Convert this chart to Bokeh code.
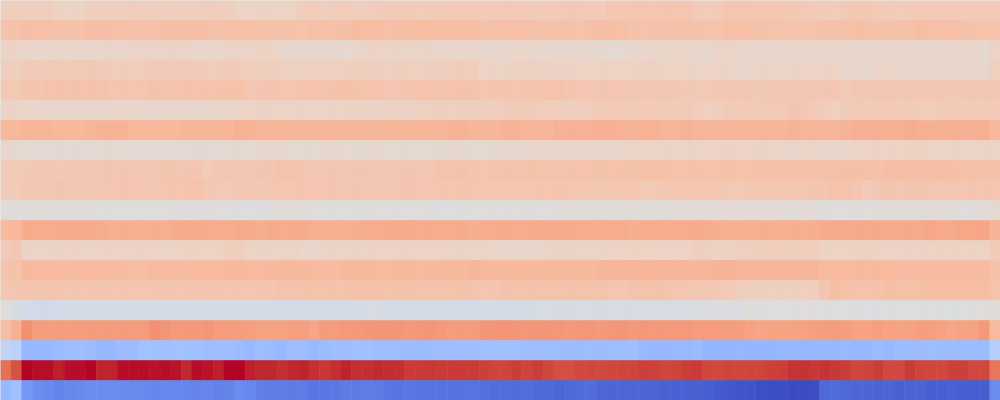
from bokeh.plotting import figure
from bokeh.models import ColumnDataSource, LinearColorMapper, Range1d
from bokeh.transform import transform
from bokeh.embed import file_html
from bokeh.resources import INLINE

# ---- data: one list per row (top to bottom), 94 columns each ----
row00 = [0.585,0.585,0.585,0.585,0.585,0.565,0.565,0.565,0.58,0.58,0.585,0.585,
         0.59,0.585,0.585,0.585,0.585,0.585,0.585,0.59,0.585,0.585,0.565,0.56,
         0.565,0.56,0.565,0.565,0.585,0.59,0.585,0.59,0.59,0.585,0.585,0.59,
         0.595,0.595,0.595,0.59,0.595,0.595,0.6,0.6,0.6,0.6,0.595,
         0.605,0.6,0.6,0.595,0.6,0.6,0.605,0.605,0.6,0.6,0.61,0.61,
         0.615,0.615,0.615,0.615,0.62,0.62,0.595,0.59,0.6,0.615,0.615,0.615,
         0.61,0.61,0.61,0.605,0.605,0.6,0.59,0.59,0.605,0.61,0.61,
         0.6,0.59,0.59,0.6,0.6,0.6,0.6,0.6,0.6,0.6,0.6,0.6]
row01 = [0.625,0.625,0.64,0.64,0.64,0.635,0.635,0.635,0.645,0.645,0.64,0.64,
         0.635,0.635,0.635,0.645,0.64,0.64,0.645,0.64,0.635,0.64,0.64,0.64,
         0.63,0.635,0.635,0.63,0.63,0.64,0.64,0.64,0.64,0.65,0.65,0.65,
         0.64,0.645,0.645,0.65,0.645,0.645,0.645,0.645,0.645,0.635,0.64,
         0.64,0.64,0.64,0.635,0.635,0.635,0.635,0.63,0.64,0.645,0.645,0.64,
         0.63,0.625,0.635,0.635,0.635,0.635,0.625,0.625,0.63,0.64,0.64,0.635,
         0.63,0.63,0.625,0.625,0.625,0.625,0.635,0.635,0.635,0.64,0.64,
         0.63,0.63,0.635,0.635,0.645,0.64,0.64,0.64,0.635,0.63,0.63,0.625]
row02 = [0.56,0.56,0.55,0.55,0.55,0.55,0.55,0.55,0.55,0.55,0.555,0.55,
         0.555,0.555,0.555,0.555,0.555,0.555,0.55,0.55,0.55,0.555,0.555,0.555,
         0.56,0.565,0.545,0.54,0.54,0.545,0.545,0.545,0.535,0.55,0.56,0.56,
         0.555,0.555,0.555,0.555,0.555,0.55,0.55,0.55,0.545,0.54,0.54,
         0.55,0.55,0.55,0.55,0.54,0.54,0.54,0.545,0.545,0.535,0.535,0.535,
         0.545,0.55,0.55,0.55,0.55,0.55,0.55,0.54,0.555,0.555,0.55,0.55,
         0.545,0.54,0.55,0.55,0.545,0.545,0.55,0.55,0.55,0.545,0.545,
         0.545,0.545,0.545,0.55,0.545,0.545,0.55,0.55,0.55,0.55,0.535,0.56]
row03 = [0.585,0.58,0.595,0.6,0.6,0.6,0.6,0.605,0.605,0.6,0.59,0.59,
         0.585,0.59,0.595,0.595,0.595,0.6,0.6,0.59,0.59,0.6,0.59,0.585,
         0.58,0.58,0.575,0.575,0.575,0.575,0.575,0.575,0.58,0.585,0.58,0.58,
         0.575,0.58,0.58,0.58,0.575,0.58,0.59,0.59,0.59,0.565,0.56,
         0.565,0.57,0.57,0.57,0.57,0.56,0.565,0.565,0.565,0.565,0.565,0.565,
         0.565,0.57,0.57,0.565,0.565,0.565,0.56,0.56,0.565,0.565,0.55,0.55,
         0.565,0.565,0.555,0.555,0.56,0.56,0.565,0.565,0.545,0.545,0.545,
         0.555,0.555,0.545,0.55,0.55,0.55,0.545,0.545,0.55,0.55,0.545,0.58]
row04 = [0.605,0.605,0.62,0.62,0.625,0.625,0.625,0.625,0.625,0.625,0.62,0.62,
         0.62,0.62,0.625,0.625,0.625,0.625,0.625,0.625,0.625,0.63,0.63,0.61,
         0.615,0.615,0.62,0.62,0.625,0.625,0.625,0.625,0.635,0.63,0.625,0.625,
         0.615,0.615,0.62,0.625,0.625,0.625,0.625,0.625,0.625,0.62,0.62,
         0.62,0.62,0.62,0.62,0.625,0.625,0.62,0.615,0.615,0.615,0.615,0.615,
         0.61,0.61,0.61,0.61,0.61,0.605,0.605,0.605,0.61,0.61,0.61,0.61,
         0.605,0.61,0.61,0.61,0.61,0.61,0.615,0.615,0.595,0.61,0.61,
         0.615,0.615,0.61,0.61,0.61,0.61,0.61,0.605,0.61,0.61,0.61,0.61]
row05 = [0.56,0.555,0.55,0.55,0.55,0.545,0.545,0.545,0.545,0.545,0.55,0.55,
         0.55,0.55,0.54,0.545,0.55,0.545,0.545,0.545,0.55,0.55,0.56,0.56,
         0.565,0.565,0.565,0.56,0.56,0.56,0.56,0.56,0.565,0.57,0.56,0.56,
         0.57,0.57,0.57,0.575,0.575,0.58,0.58,0.58,0.58,0.585,0.585,
         0.59,0.595,0.59,0.59,0.59,0.59,0.585,0.585,0.59,0.6,0.6,0.6,
         0.6,0.6,0.6,0.6,0.6,0.605,0.59,0.58,0.585,0.595,0.6,0.6,
         0.6,0.605,0.605,0.615,0.615,0.6,0.59,0.58,0.595,0.6,0.6,
         0.595,0.6,0.6,0.595,0.59,0.59,0.595,0.595,0.6,0.6,0.595,0.6]
row06 = [0.665,0.665,0.675,0.675,0.675,0.665,0.665,0.665,0.675,0.68,0.68,0.68,
         0.665,0.665,0.665,0.665,0.665,0.67,0.67,0.67,0.67,0.67,0.685,0.68,
         0.67,0.675,0.675,0.675,0.675,0.675,0.675,0.675,0.675,0.675,0.67,0.67,
         0.675,0.675,0.675,0.675,0.675,0.675,0.68,0.68,0.675,0.675,0.675,
         0.68,0.68,0.675,0.675,0.675,0.685,0.685,0.685,0.685,0.69,0.69,0.68,
         0.68,0.685,0.685,0.675,0.675,0.685,0.675,0.675,0.675,0.675,0.675,0.675,
         0.675,0.675,0.675,0.68,0.675,0.675,0.675,0.675,0.68,0.69,0.69,
         0.69,0.69,0.69,0.7,0.695,0.69,0.69,0.69,0.69,0.69,0.695,0.665]
row07 = [0.545,0.535,0.525,0.53,0.53,0.53,0.53,0.53,0.53,0.535,0.535,0.53,
         0.53,0.53,0.53,0.53,0.53,0.53,0.53,0.53,0.53,0.535,0.535,0.535,
         0.54,0.54,0.54,0.535,0.535,0.535,0.54,0.54,0.535,0.535,0.535,0.54,
         0.535,0.535,0.53,0.53,0.535,0.535,0.54,0.535,0.535,0.535,0.535,
         0.54,0.54,0.54,0.55,0.55,0.55,0.55,0.55,0.55,0.545,0.545,0.55,
         0.555,0.555,0.555,0.555,0.555,0.56,0.56,0.56,0.56,0.56,0.56,0.56,
         0.555,0.555,0.55,0.55,0.555,0.555,0.545,0.545,0.545,0.56,0.56,
         0.56,0.56,0.565,0.565,0.565,0.565,0.555,0.555,0.555,0.555,0.555,0.555]
row08 = [0.6,0.6,0.605,0.61,0.61,0.605,0.61,0.615,0.615,0.615,0.615,0.615,
         0.615,0.615,0.615,0.62,0.62,0.615,0.615,0.6,0.61,0.615,0.615,0.615,
         0.615,0.62,0.625,0.625,0.615,0.615,0.615,0.615,0.61,0.615,0.615,0.615,
         0.615,0.615,0.615,0.615,0.615,0.625,0.625,0.625,0.62,0.62,0.625,
         0.625,0.625,0.63,0.63,0.625,0.625,0.625,0.625,0.63,0.63,0.63,0.63,
         0.63,0.64,0.635,0.64,0.63,0.63,0.63,0.63,0.63,0.635,0.63,0.63,
         0.635,0.635,0.635,0.635,0.635,0.635,0.635,0.64,0.64,0.64,0.64,
         0.635,0.645,0.65,0.645,0.645,0.645,0.645,0.64,0.64,0.64,0.635,0.635]
row09 = [0.59,0.595,0.61,0.61,0.61,0.615,0.61,0.61,0.61,0.61,0.615,0.615,
         0.615,0.615,0.61,0.615,0.62,0.62,0.625,0.61,0.605,0.605,0.61,0.61,
         0.605,0.61,0.615,0.615,0.615,0.615,0.615,0.615,0.615,0.615,0.61,0.61,
         0.61,0.615,0.615,0.615,0.615,0.615,0.62,0.62,0.615,0.615,0.61,
         0.615,0.615,0.615,0.615,0.62,0.62,0.62,0.61,0.61,0.61,0.61,0.61,
         0.615,0.605,0.605,0.61,0.61,0.61,0.615,0.61,0.61,0.605,0.605,0.61,
         0.61,0.61,0.61,0.61,0.61,0.62,0.62,0.625,0.625,0.615,0.6,
         0.615,0.62,0.62,0.62,0.62,0.62,0.615,0.615,0.615,0.615,0.615,0.615]
row10 = [0.515,0.51,0.505,0.51,0.51,0.505,0.505,0.51,0.505,0.5,0.5,0.5,
         0.5,0.5,0.5,0.505,0.505,0.505,0.505,0.5,0.5,0.5,0.495,0.495,
         0.495,0.505,0.51,0.51,0.505,0.505,0.5,0.5,0.5,0.5,0.5,0.5,
         0.5,0.5,0.5,0.5,0.505,0.495,0.495,0.5,0.5,0.5,0.5,
         0.5,0.5,0.5,0.505,0.505,0.51,0.51,0.51,0.51,0.51,0.51,0.51,
         0.515,0.515,0.515,0.515,0.52,0.52,0.515,0.515,0.52,0.52,0.52,0.515,
         0.52,0.52,0.515,0.515,0.52,0.515,0.5,0.505,0.505,0.505,0.505,
         0.51,0.51,0.51,0.51,0.51,0.51,0.51,0.51,0.505,0.505,0.51,0.535]
row11 = [0.66,0.665,0.7,0.7,0.7,0.7,0.705,0.705,0.705,0.7,0.695,0.695,
         0.695,0.695,0.695,0.695,0.7,0.705,0.705,0.7,0.7,0.7,0.71,0.705,
         0.695,0.705,0.7,0.7,0.7,0.695,0.695,0.695,0.695,0.695,0.7,0.7,
         0.705,0.705,0.705,0.7,0.7,0.7,0.7,0.7,0.695,0.7,0.7,
         0.705,0.7,0.7,0.705,0.705,0.7,0.7,0.7,0.7,0.7,0.7,0.7,
         0.695,0.7,0.7,0.7,0.7,0.7,0.705,0.7,0.695,0.695,0.695,0.695,
         0.695,0.695,0.695,0.695,0.695,0.695,0.7,0.71,0.71,0.71,0.71,
         0.71,0.71,0.71,0.71,0.71,0.715,0.71,0.71,0.715,0.715,0.72,0.68]
row12 = [0.6,0.61,0.555,0.555,0.555,0.555,0.56,0.555,0.555,0.56,0.56,0.555,
         0.56,0.56,0.555,0.555,0.56,0.565,0.565,0.565,0.565,0.585,0.585,0.565,
         0.555,0.555,0.555,0.555,0.55,0.55,0.555,0.555,0.555,0.555,0.56,0.56,
         0.56,0.56,0.56,0.56,0.56,0.56,0.555,0.555,0.555,0.555,0.55,
         0.55,0.55,0.55,0.55,0.555,0.555,0.555,0.555,0.555,0.555,0.555,0.56,
         0.565,0.565,0.565,0.56,0.56,0.56,0.575,0.575,0.565,0.565,0.575,0.575,
         0.58,0.585,0.585,0.585,0.585,0.585,0.565,0.565,0.565,0.57,0.57,
         0.56,0.56,0.56,0.56,0.56,0.565,0.565,0.565,0.565,0.565,0.565,0.595]
row13 = [0.625,0.63,0.66,0.66,0.66,0.655,0.655,0.66,0.66,0.66,0.655,0.655,
         0.65,0.65,0.66,0.66,0.655,0.655,0.66,0.66,0.66,0.665,0.665,0.66,
         0.66,0.66,0.665,0.665,0.665,0.66,0.655,0.655,0.665,0.665,0.665,0.66,
         0.66,0.665,0.665,0.66,0.66,0.665,0.665,0.665,0.67,0.665,0.665,
         0.665,0.665,0.665,0.665,0.665,0.665,0.665,0.665,0.665,0.67,0.67,0.675,
         0.675,0.675,0.675,0.675,0.675,0.675,0.675,0.675,0.68,0.68,0.675,0.675,
         0.67,0.67,0.67,0.67,0.67,0.67,0.66,0.66,0.66,0.66,0.66,
         0.66,0.66,0.655,0.655,0.655,0.655,0.655,0.655,0.655,0.655,0.655,0.635]
row14 = [0.61,0.62,0.62,0.62,0.62,0.62,0.615,0.62,0.62,0.62,0.62,0.62,
         0.615,0.615,0.62,0.62,0.62,0.62,0.62,0.62,0.62,0.62,0.62,0.62,
         0.62,0.62,0.625,0.625,0.625,0.63,0.63,0.625,0.625,0.635,0.63,0.63,
         0.63,0.63,0.63,0.63,0.625,0.625,0.625,0.625,0.625,0.62,0.615,
         0.625,0.625,0.625,0.625,0.625,0.625,0.625,0.625,0.625,0.625,0.62,0.62,
         0.625,0.625,0.625,0.625,0.615,0.615,0.61,0.61,0.605,0.6,0.585,0.58,
         0.58,0.58,0.58,0.58,0.58,0.585,0.62,0.645,0.635,0.625,0.625,
         0.63,0.645,0.64,0.64,0.64,0.645,0.645,0.645,0.645,0.645,0.645,0.63]
row15 = [0.505,0.48,0.465,0.46,0.46,0.465,0.465,0.465,0.465,0.465,0.47,0.47,
         0.47,0.47,0.47,0.47,0.47,0.47,0.47,0.47,0.47,0.47,0.47,0.465,
         0.465,0.465,0.465,0.465,0.465,0.465,0.465,0.465,0.47,0.47,0.475,0.475,
         0.47,0.47,0.47,0.47,0.47,0.47,0.47,0.465,0.465,0.47,0.47,
         0.47,0.47,0.47,0.475,0.475,0.475,0.475,0.475,0.475,0.475,0.475,0.475,
         0.475,0.48,0.48,0.48,0.48,0.485,0.49,0.49,0.49,0.49,0.49,0.5,
         0.495,0.495,0.5,0.5,0.505,0.505,0.495,0.495,0.495,0.495,0.495,
         0.495,0.495,0.495,0.495,0.495,0.495,0.495,0.495,0.495,0.5,0.5,0.515]
row16 = [0.645,0.69,0.77,0.74,0.74,0.74,0.74,0.74,0.745,0.745,0.745,0.745,
         0.745,0.745,0.77,0.765,0.75,0.75,0.75,0.755,0.745,0.745,0.74,0.735,
         0.725,0.725,0.73,0.735,0.735,0.72,0.745,0.745,0.75,0.75,0.755,0.76,
         0.76,0.755,0.75,0.755,0.755,0.75,0.745,0.745,0.745,0.76,0.76,
         0.765,0.76,0.755,0.76,0.76,0.755,0.75,0.755,0.755,0.75,0.755,0.76,
         0.75,0.755,0.75,0.75,0.75,0.75,0.745,0.745,0.74,0.745,0.74,0.73,
         0.72,0.725,0.725,0.725,0.73,0.735,0.74,0.745,0.735,0.73,0.73,
         0.735,0.73,0.725,0.73,0.735,0.735,0.725,0.72,0.725,0.73,0.75,0.66]
row17 = [0.40,0.385,0.28,0.28,0.285,0.29,0.30,0.30,0.29,0.28,0.285,0.295,
         0.29,0.31,0.31,0.305,0.31,0.31,0.305,0.30,0.30,0.30,0.29,0.285,
         0.30,0.29,0.285,0.30,0.295,0.285,0.29,0.30,0.30,0.305,0.305,0.30,
         0.30,0.295,0.29,0.29,0.295,0.295,0.295,0.30,0.30,0.305,0.305,
         0.31,0.305,0.30,0.295,0.295,0.295,0.29,0.29,0.295,0.29,0.295,0.30,
         0.30,0.285,0.28,0.28,0.285,0.285,0.29,0.27,0.27,0.27,0.275,0.27,
         0.275,0.27,0.28,0.28,0.275,0.28,0.28,0.28,0.285,0.28,0.28,
         0.29,0.285,0.29,0.29,0.295,0.295,0.29,0.295,0.29,0.29,0.29,0.37]
row18 = [0.84,0.90,1.0,0.99,0.99,0.975,0.99,0.99,1.0,0.97,0.97,0.99,
         0.99,0.99,0.985,0.99,0.985,0.965,0.99,0.985,0.975,1.0,1.0,0.975,
         0.965,0.965,0.955,0.965,0.97,0.955,0.945,0.955,0.97,0.955,0.955,0.962,
         0.96,0.955,0.94,0.94,0.945,0.94,0.94,0.94,0.94,0.93,0.925,
         0.925,0.935,0.925,0.935,0.92,0.91,0.91,0.915,0.92,0.915,0.92,0.925,
         0.925,0.93,0.93,0.925,0.925,0.935,0.94,0.92,0.92,0.925,0.92,0.925,
         0.925,0.93,0.935,0.95,0.95,0.945,0.95,0.945,0.935,0.925,0.925,
         0.935,0.915,0.915,0.94,0.925,0.92,0.915,0.93,0.93,0.92,0.92,0.83]
row19 = [0.28,0.305,0.185,0.16,0.145,0.13,0.14,0.145,0.155,0.155,0.15,0.15,
         0.145,0.145,0.14,0.14,0.14,0.14,0.135,0.135,0.125,0.13,0.15,0.14,
         0.12,0.115,0.115,0.11,0.11,0.10,0.10,0.105,0.11,0.11,0.11,0.11,
         0.10,0.095,0.10,0.095,0.095,0.09,0.09,0.09,0.09,0.085,0.075,
         0.075,0.075,0.075,0.07,0.07,0.06,0.065,0.075,0.075,0.06,0.06,0.06,
         0.06,0.06,0.055,0.05,0.05,0.05,0.05,0.045,0.035,0.03,0.02,0.02,
         0.01,0.005,0.005,0.0,0.0,0.005,0.07,0.075,0.065,0.06,0.06,
         0.055,0.06,0.05,0.055,0.055,0.045,0.045,0.05,0.045,0.04,0.04,0.15]

rows = [row00, row01, row02, row03, row04, row05, row06, row07, row08, row09,
        row10, row11, row12, row13, row14, row15, row16, row17, row18, row19]

# ---- colormap: Moreland "coolwarm" control points ----
cw = [(59,76,192),(68,90,204),(77,104,215),(87,117,225),(98,130,234),(108,142,241),
      (119,154,247),(130,165,251),(141,176,254),(152,185,255),(163,194,255),(174,201,253),
      (184,208,249),(194,213,244),(204,217,238),(213,219,230),(221,221,221),(229,216,209),
      (236,211,197),(241,204,185),(245,196,173),(247,187,160),(247,177,148),(247,166,135),
      (244,154,123),(241,141,111),(236,127,99),(229,112,88),(222,96,77),(213,80,66),
      (203,62,56),(192,40,47),(180,4,38)]
palette = []
N = 256
for i in range(N):
    t = i / (N - 1) * (len(cw) - 1)
    k = min(int(t), len(cw) - 2)
    f = t - k
    c = tuple(int(round(cw[k][j] + (cw[k + 1][j] - cw[k][j]) * f)) for j in range(3))
    palette.append("#%02x%02x%02x" % c)

mapper = LinearColorMapper(palette=palette, low=0.0, high=1.0)

ncols = len(row00)
xs, ys, vs = [], [], []
for r, row in enumerate(rows):
    for c, v in enumerate(row):
        xs.append(c + 0.5)
        ys.append(r + 0.5)
        vs.append(v)
src = ColumnDataSource(dict(x=xs, y=ys, v=vs))

p = figure(width=1000, height=400, output_backend="svg", toolbar_location=None,
           x_range=Range1d(0, ncols), y_range=Range1d(len(rows), 0),
           min_border=0, min_border_left=0, min_border_right=0,
           min_border_top=0, min_border_bottom=0)
p.rect(x="x", y="y", width=1, height=1, source=src,
       fill_color=transform("v", mapper), line_color=transform("v", mapper),
       line_width=0.6)
p.axis.visible = False
p.grid.visible = False
p.outline_line_color = None
p.border_fill_color = None
p.background_fill_color = "#dddddd"

open("out.html", "w").write(file_html(p, INLINE))
